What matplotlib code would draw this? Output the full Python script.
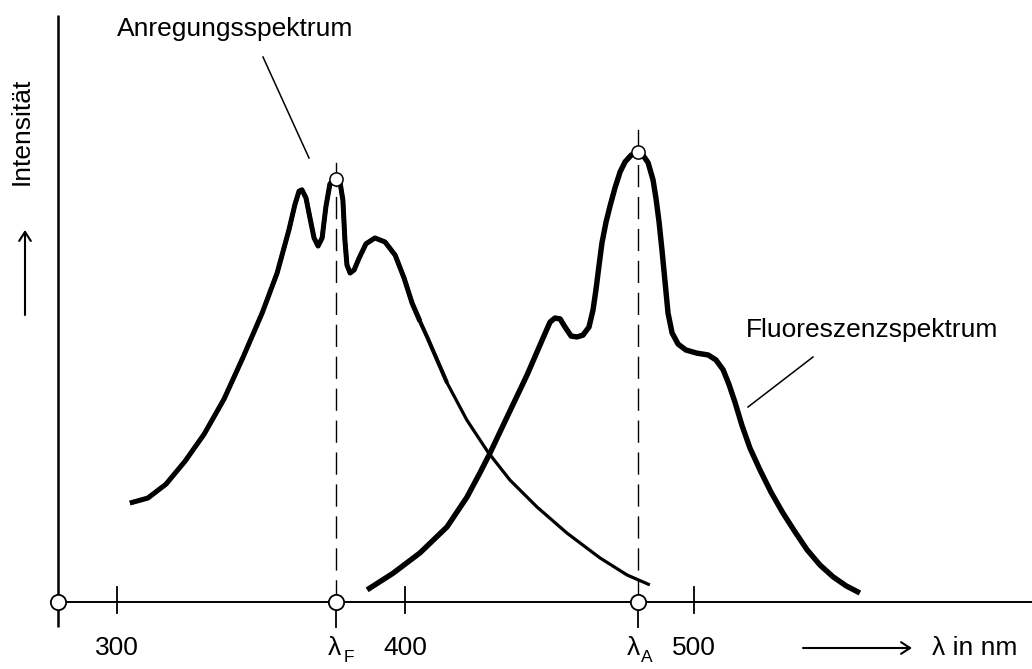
import matplotlib
matplotlib.use("Agg")
import matplotlib.pyplot as plt

plt.rcParams['font.family'] = ['Liberation Sans', 'DejaVu Sans']

# ---- data ----
ex_nm = [304.5, 310.7, 317.0, 323.6, 330.2, 337.1, 343.7, 350.3, 355.5, 359.6,
         361.7, 363.1, 364.1, 365.5, 366.9, 368.3, 369.7, 371.1, 372.4, 373.8,
         375.6, 377.3, 378.3, 379.0, 379.7, 380.8, 382.2, 383.9, 386.3, 389.4,
         392.9, 396.4, 399.5, 402.3, 405.0, 407.5, 414.4, 421.3, 428.6, 436.2,
         445.6, 456.0, 467.4, 476.8, 484.7]
ex_int = [22.0, 23.1, 26.2, 31.3, 37.3, 45.1, 54.4, 64.2, 73.1, 82.7,
          88.4, 91.3, 91.6, 89.8, 85.3, 80.9, 79.1, 80.9, 87.8, 92.9,
          94.4, 93.3, 89.3, 80.4, 74.9, 73.1, 73.8, 76.4, 79.6, 80.9,
          80.0, 77.1, 72.0, 66.4, 62.4, 58.9, 48.7, 40.4, 33.3, 27.1,
          21.1, 15.3, 9.8, 6.0, 3.8]

fl_nm = [386.7, 395.7, 405.0, 414.4, 421.3, 425.8, 429.3, 435.2, 442.1, 447.7,
         450.1, 451.8, 453.6, 455.3, 457.4, 459.4, 461.5, 463.6, 465.0, 466.0,
         467.1, 468.1, 469.5, 470.9, 472.6, 474.4, 476.1, 478.2, 480.4, 482.3,
         484.1, 485.8, 486.8, 487.9, 488.9, 490.0, 491.0, 492.4, 494.5, 497.2,
         501.0, 504.9, 507.6, 510.1, 512.1, 514.2, 516.6, 519.4, 522.9, 526.7,
         530.8, 535.0, 539.2, 543.7, 548.2, 552.7, 557.5]
fl_int = [2.7, 6.4, 10.9, 16.7, 23.3, 28.7, 33.1, 41.1, 50.4, 58.7,
          62.2, 63.1, 62.9, 61.1, 59.1, 58.9, 59.3, 61.1, 64.9, 69.3,
          74.9, 79.8, 84.4, 88.0, 92.0, 95.6, 97.8, 99.3, 100.0, 99.3,
          97.6, 93.8, 89.8, 84.4, 78.2, 70.9, 64.2, 59.8, 57.3, 56.0,
          55.3, 54.9, 53.8, 51.6, 48.4, 44.4, 39.3, 34.2, 29.3, 24.4,
          19.8, 15.6, 11.6, 8.2, 5.6, 3.6, 2.0]

tick_values = [300, 400, 500]
tick_labels = ["300", "400", "500"]
origin_nm = 279.55
lam_F = 376.0
lam_F_int = 94.0
lam_A = 480.5
lam_A_int = 100.0

# pixel -> data helpers for annotation placement
def X(px):
    return 300 + (px - 117) / 2.885

def Y(py):
    return (602 - py) / 4.5

# ---- figure ----
fig = plt.figure(figsize=(10.32, 6.69), dpi=100)
ax = fig.add_axes([0, 0, 1, 1])
ax.set_xlim(X(0), X(1032))
ax.set_ylim(Y(669), Y(0))
ax.axis('off')

K = 'black'
# axes
ax.plot([origin_nm, origin_nm], [Y(627), Y(15)], color=K, lw=1.8, solid_capstyle='butt')
ax.plot([origin_nm, X(1040)], [0, 0], color=K, lw=1.4)
for t in tick_values:
    ax.plot([t, t], [Y(613), Y(587)], color=K, lw=1.3)
for xv in (lam_F, lam_A):
    ax.plot([xv, xv], [Y(627), 0], color=K, lw=1.3)

# vertical marker lines
ax.plot([lam_F, lam_F], [0, lam_F_int], color=K, lw=1.0, ls=(0, (16, 7)))
ax.plot([lam_F, lam_F], [lam_F_int, Y(163)], color=K, lw=1.0)
ax.plot([lam_A, lam_A], [0, lam_A_int], color=K, lw=1.0, ls=(0, (16, 7)))
ax.plot([lam_A, lam_A], [lam_A_int, Y(130)], color=K, lw=1.0)

# spectra (excitation tail gets thinner, as drawn)
ax.plot(ex_nm, ex_int, color=K, lw=2.3, solid_joinstyle='round', solid_capstyle='butt')
ax.plot(ex_nm[:37], ex_int[:37], color=K, lw=2.9, solid_joinstyle='round', solid_capstyle='butt')
ax.plot(ex_nm[:35], ex_int[:35], color=K, lw=3.6, solid_joinstyle='round', solid_capstyle='butt')
ax.plot(fl_nm, fl_int, color=K, lw=3.9, solid_joinstyle='round', solid_capstyle='butt')

# circles
ax.plot([origin_nm, lam_F, lam_A], [0, 0, 0], 'o', ms=11, mfc='white', mec=K, mew=1.3, zorder=5)
ax.plot([lam_F, lam_A], [lam_F_int, lam_A_int], 'o', ms=9.5, mfc='white', mec=K, mew=1.1, zorder=5)

# leader lines
ax.plot([X(263), X(309)], [Y(57), Y(158)], color=K, lw=1.1)
ax.plot([X(813), X(748)], [Y(357), Y(407)], color=K, lw=1.1)

fs = 19
ax.text(X(235), Y(29), "Anregungsspektrum", fontsize=fs, ha='center', va='center')
ax.text(X(872), Y(330), "Fluoreszenzspektrum", fontsize=fs, ha='center', va='center')

ylab = Y(648)
for t, lab in zip(tick_values, tick_labels):
    ax.text(t, ylab, lab, fontsize=fs, ha='center', va='center')

ax.text(X(334), ylab, "λ", fontsize=fs, ha='center', va='center')
ax.text(X(349), Y(657), "F", fontsize=12.5, ha='center', va='center')
ax.text(X(633), ylab, "λ", fontsize=fs, ha='center', va='center')
ax.text(X(647), Y(657), "A", fontsize=12.5, ha='center', va='center')

ax.text(X(975), ylab, "λ in nm", fontsize=fs, ha='center', va='center')

# axis arrows
arrow = dict(arrowstyle='->,head_length=0.65,head_width=0.42', color=K, lw=1.5,
             shrinkA=0, shrinkB=0)
ax.annotate("", xy=(X(912), ylab), xytext=(X(803), ylab), arrowprops=arrow)
ax.annotate("", xy=(X(25), Y(230)), xytext=(X(25), Y(315)), arrowprops=arrow)
ax.text(X(22), Y(131), "Intensität", fontsize=fs, rotation=90, ha='center', va='center')

fig.savefig("out.png", dpi=100)
